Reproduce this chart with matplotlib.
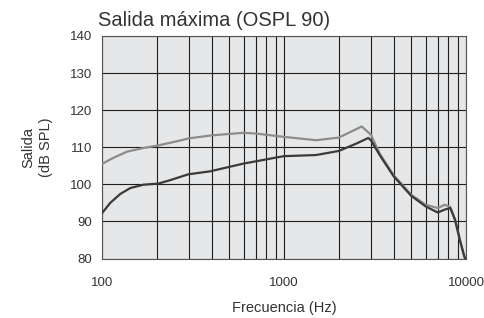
import numpy as np
import matplotlib.pyplot as plt
from matplotlib.ticker import FixedLocator, NullFormatter

plt.rcParams['font.family'] = ['Liberation Sans', 'DejaVu Sans']

# Curva superior (gris claro)
freq_a = [100, 115, 137, 169, 204, 268, 300, 400, 600, 700, 1000, 1500, 2000,
          2500, 2673, 3000, 3366, 4000, 5000, 6000, 7000, 7650, 8200, 8700,
          9300, 9800, 10000]
spl_a = [105.5, 107.1, 108.8, 109.8, 110.5, 111.8, 112.4, 113.2, 113.9, 113.7,
         112.8, 111.9, 112.6, 114.9, 115.6, 113.4, 108.2, 102.5, 97.2, 94.5,
         93.6, 94.5, 93.9, 90.5, 84.6, 80.5, 79.5]

# Curva inferior (gris oscuro)
freq_b = [100, 111, 126, 143, 169, 204, 236, 298, 392, 500, 600, 700, 900,
          1000, 1500, 2000, 2500, 2904, 3000, 3366, 4000, 5000, 6000, 7000,
          7650, 8200, 8700, 9300, 9800, 10000]
spl_b = [92.2, 95.0, 97.4, 99.0, 99.9, 100.2, 101.1, 102.7, 103.5, 104.7,
         105.6, 106.2, 107.2, 107.6, 107.9, 109.0, 111.0, 112.5, 111.9, 107.8,
         102.2, 96.9, 94.05, 92.4, 93.2, 93.6, 90.5, 84.6, 80.5, 79.5]

yticks = [80, 90, 100, 110, 120, 130, 140]
xticks = [100, 1000, 10000]
xlabels = ['100', '1000', '10000']
minor = [m * d for d in (100, 1000) for m in range(2, 10)]

fig = plt.figure(figsize=(4.85, 3.18), dpi=100)
ax = fig.add_axes([0.2103, 0.1871, 0.7505, 0.6997])
ax.set_facecolor('#e6e7e8')

ax.plot(freq_a, spl_a, color='#8c8c8c', lw=1.6, zorder=3)
ax.plot(freq_b, spl_b, color='#3a3a3a', lw=1.6, zorder=4)

ax.set_xscale('log')
ax.set_xlim(100, 10000)
ax.set_ylim(80, 140)
ax.set_yticks(yticks)
ax.set_xticks(xticks)
ax.set_xticklabels(xlabels)
ax.xaxis.set_minor_locator(FixedLocator(minor))
ax.xaxis.set_minor_formatter(NullFormatter())

ax.grid(True, which='both', color='#1e1e1e', lw=0.8, zorder=1)
ax.set_axisbelow(True)
ax.tick_params(which='both', length=0, labelsize=9.5, colors='#333333')
ax.tick_params(axis='y', pad=7)
ax.tick_params(axis='x', pad=13)
for s in ax.spines.values():
    s.set_color('#555555')
    s.set_linewidth(0.8)

ax.set_xlabel('Frecuencia (Hz)', fontsize=10.5, color='#333333', labelpad=9)
ax.set_ylabel('Salida\n(dB SPL)', fontsize=10.5, color='#333333', labelpad=12,
              linespacing=1.35)
fig.text(0.203, 0.937, 'Salida máxima (OSPL 90)', fontsize=14.5, color='#333333',
         va='center', ha='left')

fig.savefig('out.png', dpi=100)
